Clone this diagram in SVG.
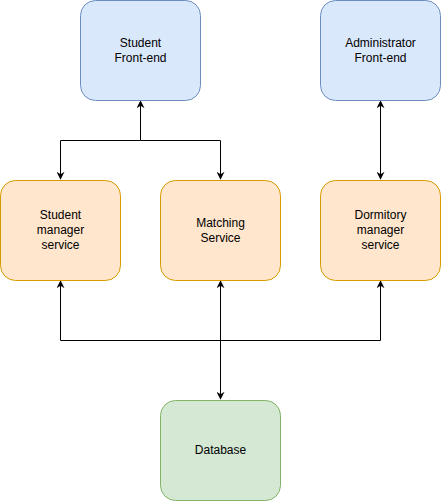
<svg xmlns="http://www.w3.org/2000/svg" width="441" height="501" viewBox="0 0 441 501">
<style>
.blue{fill:#dae8fc;stroke:#6c8ebf;stroke-width:1}
.orange{fill:#ffe6cc;stroke:#d79b00;stroke-width:1}
.green{fill:#d5e8d4;stroke:#82b366;stroke-width:1}
text{font-family:"Liberation Sans",Arial,sans-serif;font-size:12px;fill:#000;text-anchor:middle}
.edge{fill:none;stroke:#000;stroke-width:1}
</style>
<defs>
<marker id="arr" viewBox="0 0 10 10" refX="9" refY="5" markerWidth="8" markerHeight="8" markerUnits="userSpaceOnUse" orient="auto-start-reverse">
<path d="M0,0 L10,5 L0,10 L3,5 Z" fill="#000"/>
</marker>
</defs>
<g id="connectors">
<path class="edge" d="M140.5,101 L140.5,140.5 L60.5,140.5 L60.5,179" marker-start="url(#arr)" marker-end="url(#arr)"/>
<path class="edge" d="M140.5,140.5 L220.5,140.5 L220.5,179" marker-end="url(#arr)"/>
<path class="edge" d="M380.5,101 L380.5,179" marker-start="url(#arr)" marker-end="url(#arr)"/>
<path class="edge" d="M60.5,281 L60.5,340.5 L380.5,340.5 L380.5,281" marker-start="url(#arr)" marker-end="url(#arr)"/>
<path class="edge" d="M220.5,281 L220.5,399" marker-start="url(#arr)" marker-end="url(#arr)"/>
</g>
<g id="student-frontend">
<rect class="blue" x="80.5" y="0.5" width="120" height="100" rx="15" ry="15"/>
<text x="140.5" y="47">Student</text>
<text x="140.5" y="62">Front-end</text>
</g>
<g id="admin-frontend">
<rect class="blue" x="320.5" y="0.5" width="120" height="100" rx="15" ry="15"/>
<text x="380.5" y="47">Administrator</text>
<text x="380.5" y="62">Front-end</text>
</g>
<g id="student-manager">
<rect class="orange" x="0.5" y="180.5" width="120" height="100" rx="15" ry="15"/>
<text x="60.5" y="219">Student</text>
<text x="60.5" y="234">manager</text>
<text x="60.5" y="249">service</text>
</g>
<g id="matching-service">
<rect class="orange" x="160.5" y="180.5" width="120" height="100" rx="15" ry="15"/>
<text x="220.5" y="227">Matching</text>
<text x="220.5" y="242">Service</text>
</g>
<g id="dormitory-manager">
<rect class="orange" x="320.5" y="180.5" width="120" height="100" rx="15" ry="15"/>
<text x="380.5" y="219">Dormitory</text>
<text x="380.5" y="234">manager</text>
<text x="380.5" y="249">service</text>
</g>
<g id="database">
<rect class="green" x="160.5" y="400.5" width="120" height="100" rx="15" ry="15"/>
<text x="220.5" y="454">Database</text>
</g>
</svg>
